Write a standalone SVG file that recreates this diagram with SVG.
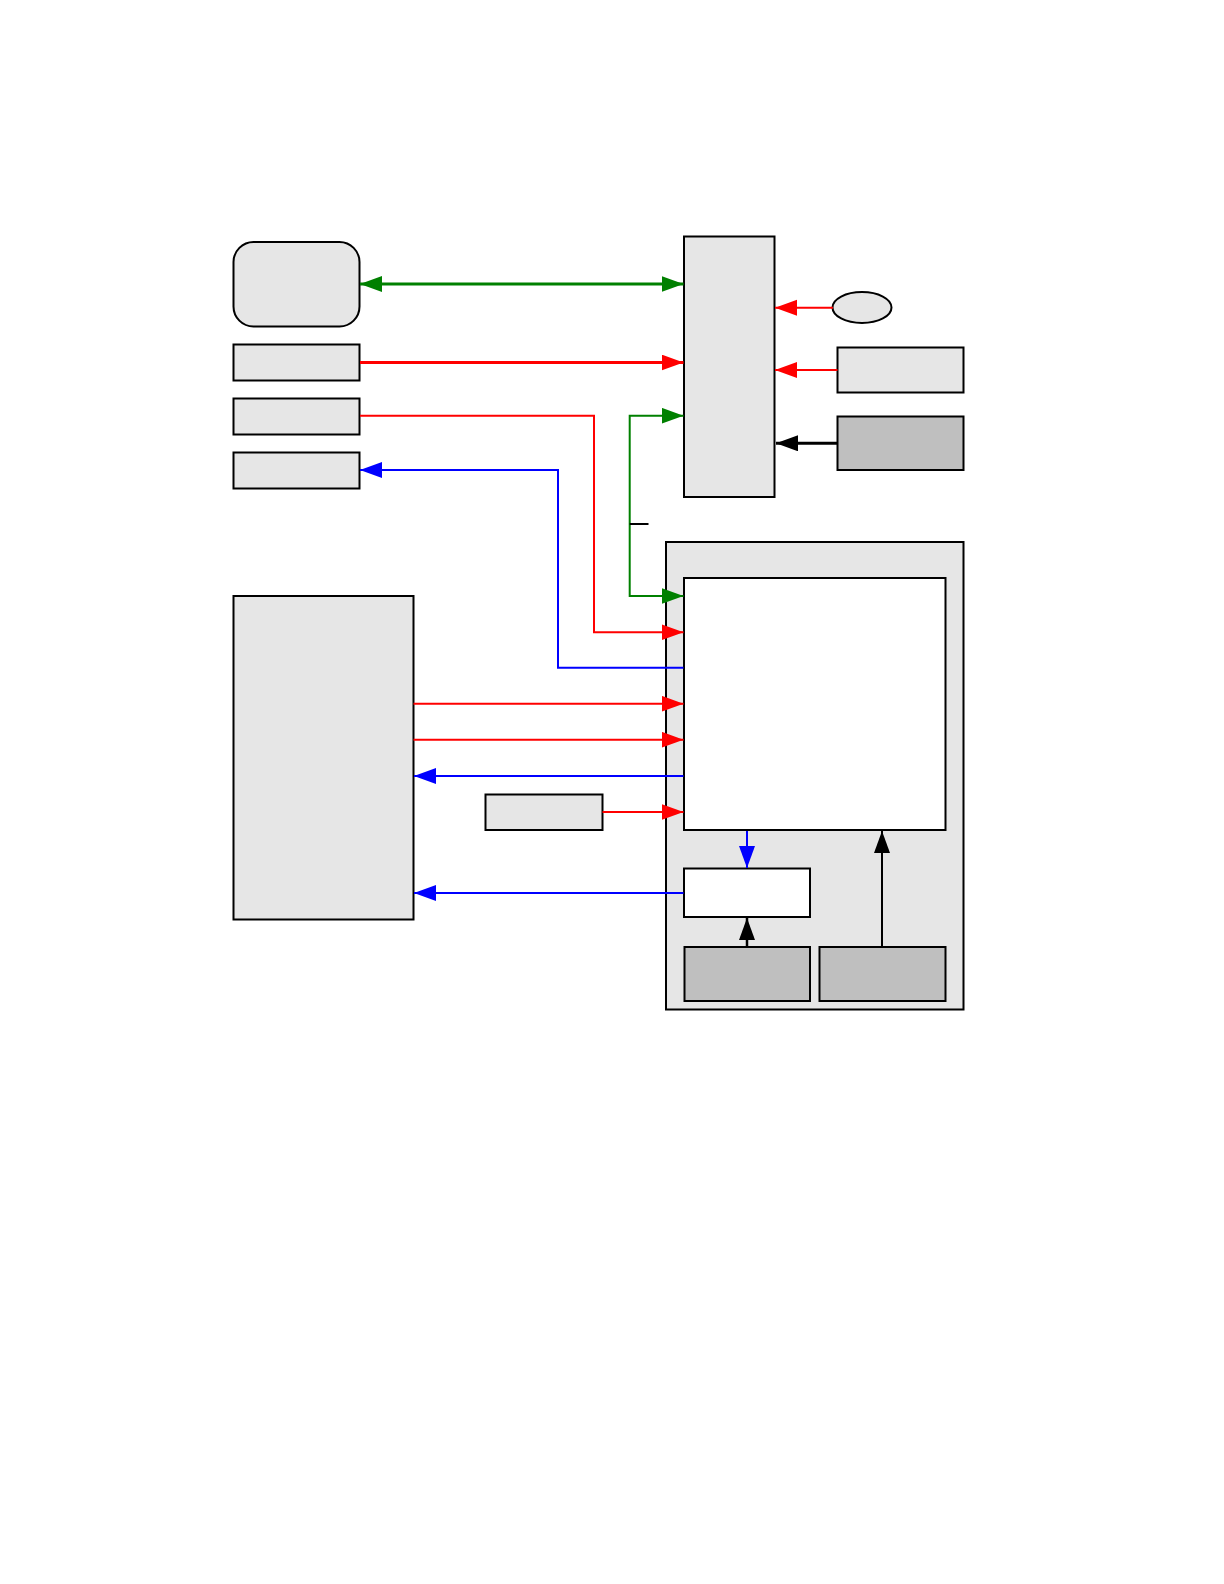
<svg xmlns="http://www.w3.org/2000/svg" width="1224" height="1584" viewBox="0 0 1224 1584">
<style>
.light{fill:#e6e6e6;stroke:#000;stroke-width:2}
.dark{fill:#bfbfbf;stroke:#000;stroke-width:2}
.white{fill:#fff;stroke:#000;stroke-width:2}
.c{fill:none}
.g{stroke:#008000}
.r{stroke:#ff0000}
.b{stroke:#0000ff}
.k{stroke:#000}
</style>
<defs>
<marker id="ag" markerUnits="userSpaceOnUse" markerWidth="23" markerHeight="17" refX="22" refY="8" orient="auto-start-reverse"><path d="M0,0 L22,8 L0,16 z" fill="#008000"/></marker>
<marker id="ar" markerUnits="userSpaceOnUse" markerWidth="23" markerHeight="17" refX="22" refY="8" orient="auto"><path d="M0,0 L22,8 L0,16 z" fill="#ff0000"/></marker>
<marker id="ab" markerUnits="userSpaceOnUse" markerWidth="23" markerHeight="17" refX="22" refY="8" orient="auto"><path d="M0,0 L22,8 L0,16 z" fill="#0000ff"/></marker>
<marker id="ak" markerUnits="userSpaceOnUse" markerWidth="23" markerHeight="17" refX="22" refY="8" orient="auto"><path d="M0,0 L22,8 L0,16 z" fill="#000"/></marker>
</defs>
<rect width="1224" height="1584" fill="#fff"/>
<g id="n-rounded"><rect class="light" x="233.5" y="242" width="126" height="84.5" rx="20" ry="20"/></g>
<g id="n-left1"><rect class="light" x="233.5" y="344.5" width="126" height="36"/></g>
<g id="n-left2"><rect class="light" x="233.5" y="398.5" width="126" height="36"/></g>
<g id="n-left3"><rect class="light" x="233.5" y="452.5" width="126" height="36"/></g>
<g id="n-tall"><rect class="light" x="684" y="236.5" width="90.5" height="260.5"/></g>
<g id="n-ellipse"><ellipse class="light" cx="862" cy="307.5" rx="29.5" ry="15.5"/></g>
<g id="n-right1"><rect class="light" x="837.5" y="347.5" width="126" height="45"/></g>
<g id="n-right2"><rect class="dark" x="837.5" y="416.5" width="126" height="53.5"/></g>
<g id="n-bigleft"><rect class="light" x="233.5" y="596" width="180" height="323.5"/></g>
<g id="n-small"><rect class="light" x="485.5" y="794.5" width="117" height="35.5"/></g>
<g id="n-outer"><rect class="light" x="666" y="542" width="297.5" height="467.5"/></g>
<g id="n-inner"><rect class="white" x="684" y="578" width="261.5" height="252"/></g>
<g id="n-innersmall"><rect class="white" x="684" y="868.5" width="126" height="48.5"/></g>
<g id="n-darkbl"><rect class="dark" x="684.5" y="947" width="125.5" height="54"/></g>
<g id="n-darkbr"><rect class="dark" x="819.5" y="947" width="126" height="54"/></g>
<g id="connectors" class="c">
<path class="g" stroke-width="3" d="M360,284 H683.5" marker-start="url(#ag)" marker-end="url(#ag)"/>
<path class="r" stroke-width="3" d="M360,362.5 H683.5" marker-end="url(#ar)"/>
<path class="r" stroke-width="2" d="M360,415.7 H594 V632.3 H683.5" marker-end="url(#ar)"/>
<path class="b" stroke-width="2" d="M683.5,667.7 H558 V470 H360" marker-end="url(#ab)"/>
<path class="g" stroke-width="2" d="M683.5,415.7 H629.7 V596 H683.5" marker-start="url(#ag)" marker-end="url(#ag)"/>
<path class="k" stroke-width="2" d="M629.7,524 H648.5"/>
<path class="r" stroke-width="2" d="M413.5,703.7 H683.5" marker-end="url(#ar)"/>
<path class="r" stroke-width="2" d="M413.5,739.7 H683.5" marker-end="url(#ar)"/>
<path class="b" stroke-width="2" d="M683.5,776 H414" marker-end="url(#ab)"/>
<path class="r" stroke-width="2" d="M602.5,812 H683.5" marker-end="url(#ar)"/>
<path class="b" stroke-width="2" d="M683.5,893 H414" marker-end="url(#ab)"/>
<path class="r" stroke-width="2" d="M833,307.7 H775" marker-end="url(#ar)"/>
<path class="r" stroke-width="2" d="M837.5,370 H775" marker-end="url(#ar)"/>
<path class="k" stroke-width="3" d="M837.5,443.3 H776" marker-end="url(#ak)"/>
<path class="b" stroke-width="2" d="M747,831 V868" marker-end="url(#ab)"/>
<path class="k" stroke-width="2.5" d="M747,946.5 V918" marker-end="url(#ak)"/>
<path class="k" stroke-width="2" d="M882,946.5 V831" marker-end="url(#ak)"/>
</g>
</svg>
